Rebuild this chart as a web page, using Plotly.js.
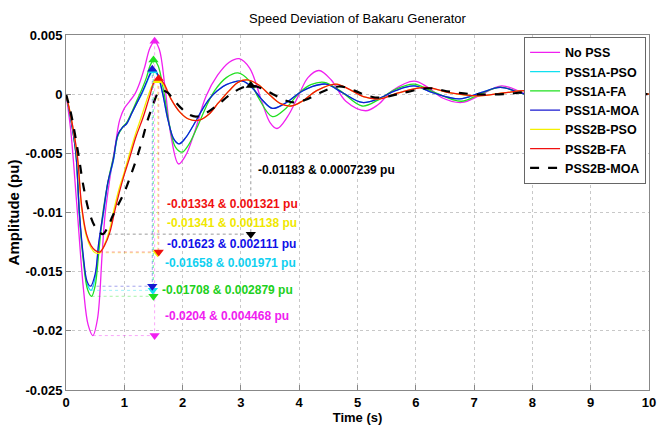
<!DOCTYPE html>
<html>
<head>
<meta charset="utf-8">
<script src="https://cdn.plot.ly/plotly-3.0.1.min.js"></script>
<style>html,body{margin:0;padding:0;background:#fff}#chart{width:658px;height:425px}</style>
</head>
<body>
<div id="chart"></div>
<script>
// ---------- data ----------
const seriesNames = ["No PSS","PSS1A-PSO","PSS1A-FA","PSS1A-MOA","PSS2B-PSO","PSS2B-FA","PSS2B-MOA"];

const t_nopss = [0,0.08,0.18,0.3,0.38,0.46,0.54,0.62,0.67,0.75,0.84,0.92,1.0,1.09,1.18,1.26,1.35,1.44,1.52,1.6,1.7,1.8,1.93,2.05,2.2,2.4,2.6,2.8,2.97,3.15,3.35,3.5,3.62,3.8,4.0,4.15,4.34,4.55,4.8,5.14,5.35,5.6,5.97,6.2,6.45,6.79,7.1,7.47,7.8,8.15,8.5,8.9,9.3,9.65,10];
const v_nopss = [0,-0.003,-0.009,-0.0165,-0.0195,-0.0204,-0.019,-0.0135,-0.0102,-0.0072,-0.0045,-0.0022,-0.0012,-0.0006,0.0,0.0009,0.0023,0.0039,0.004468,0.0038,0.0005,-0.0035,-0.0059,-0.0052,-0.0033,-0.0002,0.0016,0.0027,0.003,0.0022,-0.0005,-0.0024,-0.0029,-0.0019,0.0,0.0014,0.002,0.0012,-0.0006,-0.0014,-0.0009,0.0003,0.0011,0.0006,-0.0003,-0.0007,-0.0001,0.0007,0.0002,-0.0004,0.0,0.0003,0.0,-0.0002,0];

const t_p1pso = [0,0.08,0.17,0.23,0.3,0.36,0.43,0.5,0.56,0.64,0.72,0.81,0.89,0.97,1.04,1.12,1.21,1.3,1.38,1.45,1.5,1.57,1.66,1.75,1.85,1.94,2.05,2.2,2.35,2.46,2.6,2.75,3.03,3.2,3.35,3.54,3.75,4.0,4.2,4.46,4.75,5.08,5.35,5.65,5.97,6.3,6.75,7.1,7.45,7.8,8.1,8.5,8.9,9.3,10];
const v_p1pso = [0,-0.002,-0.005,-0.0102,-0.014,-0.016,-0.01658,-0.0155,-0.0128,-0.0102,-0.0075,-0.0057,-0.0035,-0.0028,-0.0025,-0.0017,-0.0008,0.0,0.0009,0.0017,0.001971,0.0016,0.0,-0.0022,-0.0038,-0.0042,-0.0037,-0.0025,-0.0012,-0.0004,0.0003,0.0008,0.0011,0.0005,-0.0004,-0.0012,-0.0008,0.0001,0.0006,0.00085,0.0001,-0.0007,-0.0004,0.0003,0.0007,0.0001,-0.0004,0.0001,0.00057,0.0001,-0.0003,0.0,0.0002,-0.0001,0];

const t_p1fa = [0,0.08,0.17,0.23,0.3,0.37,0.44,0.5,0.56,0.62,0.68,0.75,0.82,0.89,0.97,1.04,1.12,1.21,1.3,1.38,1.45,1.51,1.58,1.67,1.77,1.88,1.99,2.1,2.25,2.4,2.55,2.75,2.95,3.15,3.3,3.54,3.75,4.0,4.2,4.43,4.7,5.08,5.35,5.65,5.97,6.3,6.78,7.1,7.45,7.8,8.1,8.5,8.9,9.3,10];
const v_p1fa = [0,-0.002,-0.005,-0.0102,-0.0142,-0.0165,-0.01708,-0.0162,-0.0135,-0.0105,-0.0085,-0.0067,-0.0052,-0.0035,-0.0028,-0.0024,-0.0016,-0.0006,0.0004,0.0014,0.0025,0.002879,0.0024,0.0004,-0.0025,-0.0045,-0.0049,-0.0043,-0.0028,-0.0011,0.0003,0.0014,0.0018,0.0011,-0.0003,-0.0019,-0.0013,0.0001,0.0008,0.001,0.0003,-0.001,-0.0005,0.0004,0.00085,0.0002,-0.0006,0.0,0.0006,0.0001,-0.0003,0.0,0.0002,-0.0001,0];

const t_p1moa = [0,0.08,0.17,0.23,0.3,0.36,0.42,0.5,0.56,0.64,0.72,0.81,0.89,0.97,1.04,1.12,1.21,1.3,1.38,1.45,1.5,1.57,1.66,1.75,1.85,1.94,2.05,2.2,2.35,2.46,2.6,2.75,3.03,3.2,3.35,3.54,3.75,4.0,4.2,4.46,4.75,5.08,5.35,5.65,5.97,6.3,6.75,7.1,7.45,7.8,8.1,8.5,8.9,9.3,10];
const v_p1moa = [0,-0.002,-0.005,-0.01,-0.0138,-0.0158,-0.01623,-0.0152,-0.0126,-0.01,-0.0074,-0.0056,-0.0034,-0.0028,-0.0025,-0.0017,-0.0008,0.0001,0.001,0.0018,0.002111,0.0017,0.0,-0.0022,-0.0038,-0.0042,-0.0037,-0.0025,-0.0012,-0.0004,0.0003,0.0008,0.0011,0.0005,-0.0004,-0.0012,-0.0008,0.0001,0.0006,0.00085,0.0001,-0.0007,-0.0004,0.0003,0.0007,0.0001,-0.0004,0.0001,0.00057,0.0001,-0.0003,0.0,0.0002,-0.0001,0];

const t_p2pso = [0,0.08,0.19,0.27,0.35,0.43,0.5,0.58,0.66,0.75,0.83,0.91,1.0,1.08,1.19,1.3,1.42,1.5,1.58,1.67,1.8,1.95,2.1,2.28,2.45,2.62,2.8,2.95,3.1,3.3,3.5,3.68,3.86,4.05,4.3,4.62,4.9,5.1,5.37,5.7,6.15,6.6,7.08,7.5,7.9,8.4,8.9,9.4,10];
const v_p2pso = [0,-0.0018,-0.0052,-0.0097,-0.012,-0.013,-0.0134,-0.01341,-0.0127,-0.0114,-0.0096,-0.008,-0.0066,-0.0052,-0.0034,-0.0018,0.0,0.0009,0.001138,0.0008,-0.0004,-0.0015,-0.0021,-0.0022,-0.0017,-0.0007,0.0003,0.001,0.0012,0.0008,-0.0001,-0.0008,-0.001,-0.0006,0.0003,0.00085,0.0003,-0.0002,-0.0004,0.0001,0.00057,0.0001,-0.00015,0.0001,0.0003,0.0,-0.0001,0.0001,0];

const t_p2fa = [0,0.08,0.19,0.27,0.35,0.43,0.5,0.58,0.66,0.75,0.84,0.92,1.0,1.09,1.2,1.32,1.44,1.52,1.59,1.68,1.8,1.95,2.1,2.29,2.45,2.62,2.8,2.95,3.11,3.3,3.5,3.68,3.86,4.05,4.3,4.63,4.9,5.1,5.37,5.7,6.17,6.6,7.08,7.5,7.9,8.4,8.9,9.4,10];
const v_p2fa = [0,-0.0018,-0.005,-0.0095,-0.0118,-0.0128,-0.0132,-0.01334,-0.0128,-0.0117,-0.0098,-0.0082,-0.0068,-0.0054,-0.0036,-0.002,-0.0001,0.0011,0.001321,0.0009,-0.0004,-0.0015,-0.0021,-0.0022,-0.0017,-0.0007,0.0003,0.001,0.0012,0.0008,-0.0001,-0.0008,-0.001,-0.0006,0.0003,0.00085,0.0003,-0.0002,-0.0004,0.0001,0.00057,0.0001,-0.00015,0.0001,0.0003,0.0,-0.0001,0.0001,0];

const t_p2moa = [0,0.08,0.21,0.3,0.4,0.5,0.63,0.72,0.8,0.9,1.0,1.1,1.2,1.3,1.4,1.5,1.58,1.66,1.75,1.85,2.0,2.1,2.23,2.4,2.6,2.8,3.0,3.17,3.35,3.55,3.75,3.91,4.1,4.35,4.68,4.95,5.15,5.37,5.7,6.2,6.6,7.0,7.5,8.0,8.5,9.0,10];
const v_p2moa = [0,-0.0015,-0.005,-0.0078,-0.01,-0.0112,-0.01183,-0.0112,-0.0103,-0.0093,-0.0083,-0.007,-0.0056,-0.004,-0.0022,-0.0008,0.0001,0.0003,0.0001,-0.0005,-0.0013,-0.0017,-0.0019,-0.0016,-0.0009,-0.0001,0.0005,0.0007239,0.0005,0.0,-0.0005,-0.0007,-0.0005,0.0001,0.00065,0.0003,-0.0001,-0.0003,0.0,0.0005,0.0002,0.0,0.0,0.0002,0.0,0.0001,0];

// data-tip values (min & peak) and where they were taken
const tipMin   = [-0.0204, -0.01658, -0.01708, -0.01623, -0.01341, -0.01334, -0.01183];
const tipPeak  = [0.004468, 0.001971, 0.002879, 0.002111, 0.001138, 0.001321, 0.0007239];
const tipMinT  = [0.46, 0.43, 0.44, 0.42, 0.58, 0.58, 0.63];
const tipPeakT = [1.52, 1.49, 1.5, 1.48, 1.57, 1.59, 3.17];

const xTickVals = [0,1,2,3,4,5,6,7,8,9,10];
const xTickText = ["0","1","2","3","4","5","6","7","8","9","10"];
const yTickVals = [0.005,0,-0.005,-0.01,-0.015,-0.02,-0.025];
const yTickText = ["0.005","0","-0.005","-0.01","-0.015","-0.02","-0.025"];

// ---------- styling ----------
const colors = ["#f020f0","#10e0f0","#20e020","#1818d0","#f4f000","#f01010","#000000"];
const textColors = ["#f020f0","#10d0f0","#20d020","#1010e8","#f0e800","#f01010","#000000"];
const xs = [t_nopss,t_p1pso,t_p1fa,t_p1moa,t_p2pso,t_p2fa,t_p2moa];
const ys = [v_nopss,v_p1pso,v_p1fa,v_p1moa,v_p2pso,v_p2fa,v_p2moa];

const traces = [];
for (let i = 0; i < seriesNames.length; i++) {
  traces.push({
    type: "scatter", mode: "lines", name: seriesNames[i],
    x: xs[i], y: ys[i],
    line: {color: colors[i], width: i === 6 ? 2.2 : 1.3, dash: i === 6 ? "dash" : "solid", shape: "spline", smoothing: 1},
    hoverinfo: "skip"
  });
}
// data-tip guide lines
for (let i = 0; i < seriesNames.length; i++) {
  traces.push({
    type: "scatter", mode: "lines", showlegend: false, hoverinfo: "skip",
    x: [tipMinT[i], tipPeakT[i], tipPeakT[i]],
    y: [tipMin[i], tipMin[i], tipPeak[i]],
    line: {color: colors[i], width: 1, dash: "dot"}, opacity: 0.4
  });
}
// peak and min markers
traces.push({
  type: "scatter", mode: "markers", showlegend: false, hoverinfo: "skip",
  x: tipPeakT, y: tipPeak,
  marker: {symbol: "triangle-up", size: 9, color: colors}
});
traces.push({
  type: "scatter", mode: "markers", showlegend: false, hoverinfo: "skip",
  x: tipPeakT, y: tipMin,
  marker: {symbol: "triangle-down", size: 9, color: colors}
});

const fmt = v => String(v);
const labelPos = [[1.66,-0.01873],[1.66,-0.01424],[1.62,-0.01653],[1.69,-0.01263],[1.69,-0.01085],[1.69,-0.00932],[3.26,-0.00644]];
const annotations = [];
for (let i = 0; i < seriesNames.length; i++) {
  annotations.push({
    x: labelPos[i][0], y: labelPos[i][1], xref: "x", yref: "y",
    text: fmt(tipMin[i]) + " &amp; " + fmt(tipPeak[i]) + " pu",
    showarrow: false, xanchor: "left", yanchor: "middle",
    font: {family: "Arial, Liberation Sans, sans-serif", size: 12, color: textColors[i], weight: "bold"}
  });
}

const axisCommon = {
  showline: true, linecolor: "#888", linewidth: 1, mirror: true,
  ticks: "inside", ticklen: 5, tickcolor: "#888",
  showgrid: true, gridcolor: "#c8c8c8", griddash: "dot", gridwidth: 1,
  zeroline: false, automargin: false,
  tickfont: {family: "Arial, Liberation Sans, sans-serif", size: 13, color: "#000", weight: "bold"}
};

const layout = {
  width: 658, height: 425,
  margin: {l: 66, r: 9, t: 35, b: 35},
  paper_bgcolor: "#fff", plot_bgcolor: "#fff",
  title: {text: "Speed Deviation of Bakaru Generator", x: 0.5, xref: "paper", y: 1 - 18/425, yref: "container", yanchor: "middle",
          font: {family: "Arial, Liberation Sans, sans-serif", size: 13, color: "#000"}},
  xaxis: Object.assign({}, axisCommon, {range: [0, 10], tickvals: xTickVals, ticktext: xTickText,
          title: {text: "Time (s)", standoff: 0, font: {family: "Arial, Liberation Sans, sans-serif", size: 13, color: "#000", weight: "bold"}}}),
  yaxis: Object.assign({}, axisCommon, {range: [-0.025, 0.005], tickvals: yTickVals, ticktext: yTickText,
          title: {text: "Amplitude (pu)", standoff: 2, font: {family: "Arial, Liberation Sans, sans-serif", size: 15, color: "#000", weight: "bold"}}}),
  legend: {x: 0.995, xanchor: "right", y: 0.995, yanchor: "top", bgcolor: "#fff", bordercolor: "#666", borderwidth: 1,
           font: {family: "Arial, Liberation Sans, sans-serif", size: 12.5, color: "#000", weight: "bold"},
           tracegroupgap: 0, itemwidth: 30},
  annotations: annotations,
  showlegend: true
};

Plotly.newPlot("chart", traces, layout, {staticPlot: true, displayModeBar: false});
</script>
</body>
</html>
